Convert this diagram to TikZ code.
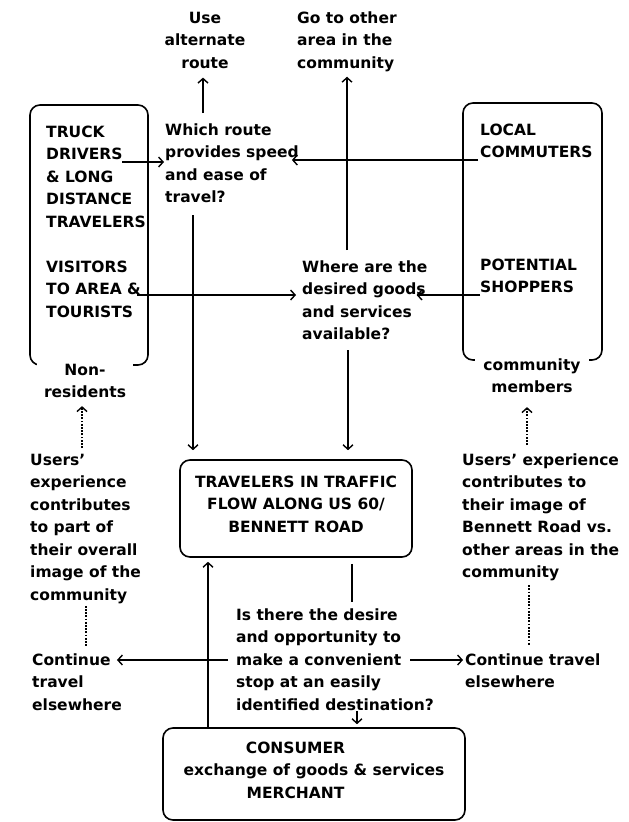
\documentclass[tikz,border=0pt]{standalone}
\usepackage{fontspec}
\setmainfont{DejaVu Sans}
\usetikzlibrary{arrows.meta}
\newcommand{\fs}{\rule{0pt}{12pt}}
\begin{document}
\begin{tikzpicture}[x=1pt,y=-1pt,
  txt/.style={font=\fontsize{15.5}{22.5}\selectfont\bfseries, align=left, anchor=north west, inner sep=0pt},
  ctxt/.style={txt, align=center, anchor=north},
  box/.style={draw, line width=1.6pt, rounded corners=10pt},
  tbox/.style={box, font=\fontsize{15.5}{22.5}\selectfont\bfseries, align=center, inner sep=0pt},
  ln/.style={line width=1.6pt},
  arr/.style={line width=1.6pt, -{Straight Barb[length=4.5pt,width=10pt,line width=1.4pt]}},
  dotln/.style={line width=2pt, dash pattern=on 1.8pt off 1.4pt},
  dotarr/.style={dotln, -{Straight Barb[length=4.5pt,width=10pt,line width=1.4pt]}}
]
\useasboundingbox (0,0) rectangle (629,822);
\fill[white] (0,0) rectangle (629,822);

% side boxes
\node[box, minimum width=118pt, minimum height=260pt] (lbox) at (89,235) {};
\node[box, minimum width=139pt, minimum height=257pt] (rbox) at (532.5,231.5) {};

% texts
\node[ctxt] (use) at (205,11) {\fs Use\\alternate\\route};
\node[txt] (goto) at (297,11) {\fs Go to other\\area in the\\community};
\node[txt] (truck) at (46,125) {\fs TRUCK\\DRIVERS\\\& LONG\\DISTANCE\\TRAVELERS};
\node[txt] (visit) at (46,260) {\fs VISITORS\\TO AREA \&\\TOURISTS};
\node[txt] (which) at (165,123) {\fs Which route\\provides speed\\and ease of\\travel?};
\node[txt] (local) at (480,123) {\fs LOCAL\\COMMUTERS};
\node[txt] (potential) at (480,258) {\fs POTENTIAL\\SHOPPERS};
\node[txt] (where) at (302,260) {\fs Where are the\\desired goods\\and services\\available?};
\node[ctxt, fill=white, inner xsep=7pt] (nonres) at (85,363) {\fs Non-\\residents};
\node[ctxt, fill=white, inner xsep=8pt] (members) at (532,358) {\fs community\\members};
\node[txt] (usersL) at (30,453) {\fs Users'\\experience\\contributes\\to part of\\their overall\\image of the\\community};
\node[txt] (contL) at (32,653) {\fs Continue\\travel\\elsewhere};
\node[txt] (usersR) at (462,453) {\fs Users' experience\\contributes to\\their image of\\Bennett Road vs.\\other areas in the\\community};
\node[txt] (contR) at (465,653) {\fs Continue travel\\elsewhere};
\node[txt] (question) at (236,608) {\fs Is there the desire\\and opportunity to\\make a convenient\\stop at an easily\\identified destination?};

% central boxes
\node[tbox, minimum width=232pt, minimum height=97pt] (trav) at (296,508.5)
  {TRAVELERS IN TRAFFIC\\FLOW ALONG US 60/\\BENNETT ROAD\rule[-9pt]{0pt}{9pt}};
\node[tbox, minimum width=302pt, minimum height=92pt] (cons) at (314,774)
  {CONSUMER\hspace*{37pt}\\exchange of goods \& services\\MERCHANT\hspace*{37pt}\rule[-8pt]{0pt}{8pt}};

% connector ends
\coordinate (ua) at (203,113);
\coordinate (ga) at (347,250);
\coordinate (drv) at (122,162);
\coordinate (cmt) at (478,160);
\coordinate (vis) at (137,295);
\coordinate (shp) at (480,295);
\coordinate (tv) at (193,215);
\coordinate (wv) at (348,350);
\coordinate (ql) at (352,602);
\coordinate (qlft) at (228,660);
\coordinate (qrt) at (410,660);
\coordinate (qd) at (357,711);
\coordinate (upx) at (208,640);
\coordinate (dl) at (82,430);
\coordinate (dl2) at (86,620);
\coordinate (dr) at (527,430);
\coordinate (dr2) at (529,610);

% connectors
\draw[arr, shorten >=9pt] (ua) -- (ua |- use.south);
\draw[arr, shorten >=5pt] (ga) -- (ga |- goto.south);
\draw[arr, shorten >=1pt] (drv) -- (drv -| which.west);
\draw[arr, shorten >=-7pt] (cmt) -- (cmt -| which.east);
\draw[arr, shorten >=6pt] (vis) -- (vis -| where.west);
\draw[arr, shorten >=-11pt] (shp) -- (shp -| where.east);
\draw[arr, shorten >=9pt] (tv) -- (tv |- trav.north);
\draw[arr, shorten >=9pt] (wv) -- (wv |- trav.north);
\draw[ln, shorten <=6pt] (ql |- trav.south) -- (ql);
\draw[arr, shorten >=-5pt] (qlft) -- (qlft -| contL.east);
\draw[arr, shorten >=2pt] (qrt) -- (qrt -| contR.west);
\draw[arr, shorten >=3pt] (qd) -- (qd |- cons.north);
\draw[arr, shorten >=4pt] (upx |- cons.north) -- (upx |- trav.south);
\draw[dotarr, shorten <=5pt, shorten >=8pt] (dl |- usersL.north) -- (dl |- nonres.south);
\draw[dotln, shorten <=2pt, shorten >=6pt] (dl2 |- usersL.south) -- (dl2 |- contL.north);
\draw[dotarr, shorten <=8pt, shorten >=14pt] (dr |- usersR.north) -- (dr |- members.south);
\draw[dotln, shorten <=4pt, shorten >=8pt] (dr2 |- usersR.south) -- (dr2 |- contR.north);
\end{tikzpicture}
\end{document}
